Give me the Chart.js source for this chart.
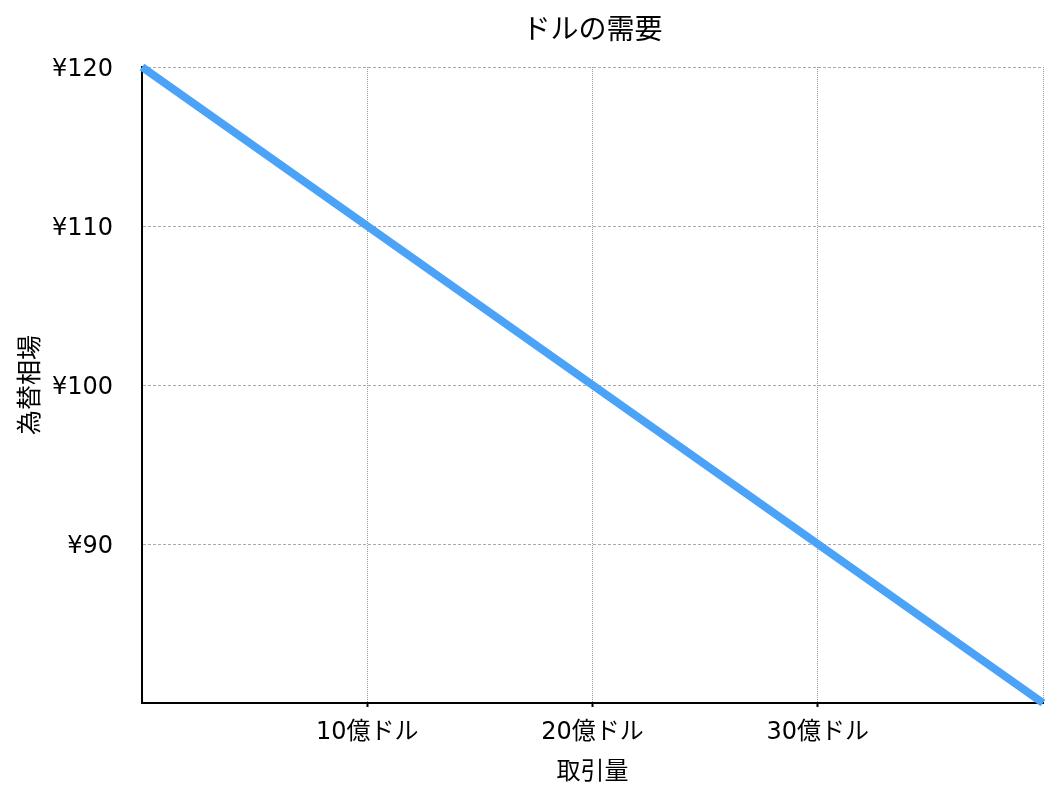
<!DOCTYPE html>
<html><head><meta charset="utf-8">
<script src="https://cdn.jsdelivr.net/npm/chart.js@4/dist/chart.umd.min.js"></script>
<style>html,body{margin:0;padding:0;background:#fff}#wrap{width:1060px;height:792px}</style>
</head><body><div id="wrap"><canvas id="c" width="1060" height="792"></canvas></div>
<script>
const quantity = [0, 40];          // 億ドル
const rate = [120, 80];            // ¥
const xTickValues = [10, 20, 30];
const xTickLabels = ['10億ドル', '20億ドル', '30億ドル'];
const yTickValues = [90, 100, 110, 120];
const yTickLabels = ['¥90', '¥100', '¥110', '¥120'];
const chartTitle = 'ドルの需要';
const FONT = "'Noto Sans CJK JP', 'Noto Sans', sans-serif";
const TICKFONT = "'DejaVu Sans', 'Noto Sans CJK JP', sans-serif";

new Chart(document.getElementById('c'), {
  type: 'line',
  data: {
    datasets: [{
      data: quantity.map((q, i) => ({x: q, y: rate[i]})),
      borderColor: 'rgb(74,163,247)',
      borderWidth: 8,
      pointRadius: 0,
      borderCapStyle: 'butt',
      fill: false,
      clip: false
    }]
  },
  options: {
    responsive: false,
    animation: false,
    layout: {padding: {left: 0, right: 17, top: 0, bottom: 0}},
    plugins: {
      legend: {display: false},
      tooltip: {enabled: false},
      title: {display: false}
    },
    scales: {
      top: {
        type: 'linear', position: 'top', min: 0, max: 40,
        afterFit: s => { s.height = 67; },
        border: {display: false},
        grid: {display: false, drawTicks: false},
        ticks: {display: false},
        title: {display: true, text: chartTitle, color: '#000',
          font: {family: FONT, size: 28, weight: 'normal', lineHeight: 1.2},
          padding: {top: 12, bottom: 0}}
      },
      x: {
        type: 'linear', position: 'bottom', min: 0, max: 40,
        afterFit: s => { s.height = 89; },
        afterBuildTicks: s => { s.ticks = [0, ...xTickValues, 40].map(v => ({value: v})); },
        border: {display: true, color: '#000', width: 2, dash: [1, 1]},
        grid: {color: '#999', lineWidth: 1, drawTicks: true, tickLength: 4,
               tickColor: ctx => (ctx.tick && ctx.tick.value > 0 && ctx.tick.value < 40) ? '#000' : 'rgba(0,0,0,0)',
               tickBorderDash: [], tickWidth: 2},
        ticks: {color: '#000', padding: 11, maxRotation: 0,
          font: {family: TICKFONT, size: 24},
          callback: v => { const i = xTickValues.indexOf(v); return i >= 0 ? xTickLabels[i] : ''; }},
        title: {display: true, text: '取引量', color: '#000',
          font: {family: FONT, size: 24}, padding: {top: 0, bottom: 8}}
      },
      y: {
        type: 'linear', min: 80, max: 120,
        afterFit: s => { s.width = 142; },
        afterBuildTicks: s => { s.ticks = [80, ...yTickValues].map(v => ({value: v})); },
        border: {display: true, color: '#000', width: 2, dash: [3, 2]},
        grid: {color: '#aaa', lineWidth: 1, drawTicks: false},
        ticks: {color: '#000', padding: 29, labelOffset: 3,
          font: {family: TICKFONT, size: 24},
          callback: v => { const i = yTickValues.indexOf(v); return i >= 0 ? yTickLabels[i] : ''; }},
        title: {display: true, text: '為替相場', color: '#000',
          font: {family: FONT, size: 25}, padding: {top: 13, bottom: 0}}
      }
    }
  }
});
</script></body></html>
